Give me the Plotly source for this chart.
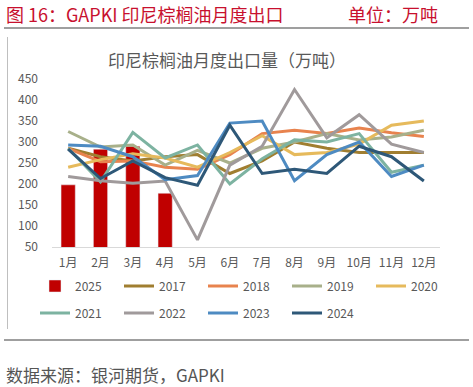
import plotly.graph_objects as go

months = ["1月", "2月", "3月", "4月", "5月", "6月", "7月", "8月", "9月", "10月", "11月", "12月"]
y2025 = [198, 283, 290, 178]
y2017 = [285, 265, 255, 265, 270, 225, 255, 300, 285, 275, 275, 275]
y2018 = [285, 253, 255, 240, 235, 270, 320, 328, 320, 333, 322, 313]
y2019 = [325, 288, 293, 245, 280, 250, 285, 300, 320, 305, 312, 328]
y2020 = [240, 258, 272, 262, 240, 275, 315, 270, 275, 295, 340, 350]
y2021 = [285, 205, 323, 262, 293, 200, 260, 305, 300, 320, 228, 245]
y2022 = [218, 208, 202, 207, 67, 245, 290, 425, 310, 365, 295, 275]
y2023 = [293, 290, 265, 210, 220, 345, 350, 208, 270, 300, 218, 245]
y2024 = [283, 213, 255, 215, 197, 340, 225, 235, 225, 290, 265, 207]
yticks = [50, 100, 150, 200, 250, 300, 350, 400, 450]

W, H = 473, 387
ML, MR, MT, MB = 52, 33, 79, 140
PW, PH = W - ML - MR, H - MT - MB

def px(x):
    return (x - ML) / PW

def py(y):
    return (H - MB - y) / PH

FONT = "Noto Sans CJK SC"
GRAY = "#595959"

fig = go.Figure()
fig.add_trace(go.Bar(x=months[:4], y=y2025, name="2025", marker_color="#C00000",
                     legend="legend"))
series = [
    ("2017", y2017, "#A07E30", "legend"),
    ("2018", y2018, "#E8834E", "legend"),
    ("2019", y2019, "#A8B08A", "legend"),
    ("2020", y2020, "#E6BA5C", "legend"),
    ("2021", y2021, "#7DB3A1", "legend2"),
    ("2022", y2022, "#A09A9B", "legend2"),
    ("2023", y2023, "#4E8BC2", "legend2"),
    ("2024", y2024, "#2E5878", "legend2"),
]
for name, ys, col, lg in series:
    fig.add_trace(go.Scatter(x=months, y=ys, name=name, mode="lines",
                             line=dict(color=col, width=3), legend=lg))

legend_common = dict(orientation="h", xanchor="left", yanchor="middle",
                     xref="paper", yref="paper",
                     font=dict(family=FONT, size=12, color=GRAY),
                     entrywidth=39, entrywidthmode="pixels",
                     bgcolor="rgba(0,0,0,0)", itemwidth=30, tracegroupgap=0)

fig.update_layout(
    width=W, height=H, autosize=False,
    margin=dict(l=ML, r=MR, t=MT, b=MB, autoexpand=False),
    paper_bgcolor="white", plot_bgcolor="white",
    bargap=0.56,
    font=dict(family=FONT, color=GRAY),
    legend=dict(x=px(35), y=py(286), **legend_common),
    legend2=dict(x=px(35), y=py(313), **legend_common),
    xaxis=dict(type="category", categoryorder="array", categoryarray=months,
               range=[-0.5, 11.5], autorange=False, ticklabelstandoff=5,
               showline=True, linecolor="#D9D9D9", linewidth=1, ticks="",
               tickfont=dict(family=FONT, size=12, color=GRAY), showgrid=False),
    yaxis=dict(range=[50, 450], tickvals=yticks, showgrid=False, zeroline=False,
               ticklabelstandoff=13,
               showline=False, ticks="", tickfont=dict(family=FONT, size=12, color=GRAY)),
    showlegend=True,
)

fig.add_annotation(text="印尼棕榈油月度出口量（万吨）", xref="paper", yref="paper",
                   x=px(227), y=py(59), xanchor="center", yanchor="middle",
                   showarrow=False, font=dict(family=FONT, size=17, color=GRAY))
fig.add_annotation(text="图 16：GAPKI 印尼棕榈油月度出口", xref="paper", yref="paper",
                   x=px(4), y=py(14), xanchor="left", yanchor="middle",
                   showarrow=False, font=dict(family=FONT, size=18, color="#C8102E"))
fig.add_annotation(text="单位：万吨", xref="paper", yref="paper",
                   x=px(440), y=py(14), xanchor="right", yanchor="middle",
                   showarrow=False, font=dict(family=FONT, size=18, color="#C8102E"))
fig.add_annotation(text="数据来源：银河期货，GAPKI", xref="paper", yref="paper",
                   x=px(4), y=py(374), xanchor="left", yanchor="middle",
                   showarrow=False, font=dict(family=FONT, size=17, color="#555555"))

fig.add_shape(type="line", xref="paper", yref="paper", x0=px(4), x1=px(469),
              y0=py(28), y1=py(28), line=dict(color="#7F7F7F", width=1.5))
fig.add_shape(type="line", xref="paper", yref="paper", x0=px(4), x1=px(469),
              y0=py(340), y1=py(340), line=dict(color="#7F7F7F", width=1.5))
fig.add_shape(type="line", xref="paper", yref="paper", x0=px(7.5), x1=px(7.5),
              y0=py(37), y1=py(329), line=dict(color="#BFBFBF", width=1))

fig.write_html("out.html", config={"responsive": False, "displayModeBar": False},
               post_script="document.body.style.margin='0';document.body.style.overflow='hidden';")
